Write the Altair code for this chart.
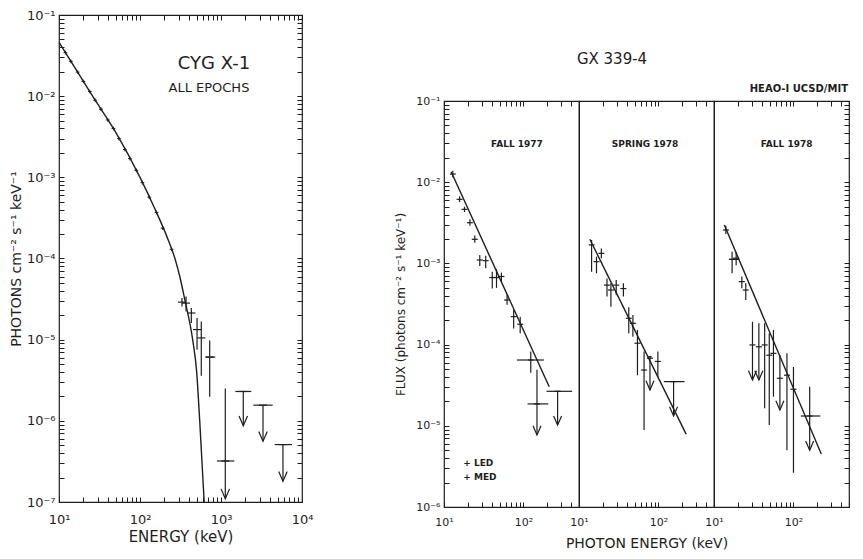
import altair as alt
import pandas as pd

# ---------------- data ----------------
# CYG X-1, all epochs: model curve (keV, photons cm^-2 s^-1 keV^-1)
cyg_curve_e = [10, 26, 50, 100, 158, 215, 270, 310, 355, 447, 500, 546, 620]
cyg_curve_f = [0.046, 0.01, 0.0036, 0.001, 3.8e-4, 1.86e-4, 1e-4, 6.0e-5, 3.2e-5, 1e-5,
               4.1e-6, 1e-6, 1e-7]
# small data crosses lying along the curve
cyg_dot_e = [12, 14, 17, 20, 24, 28, 33, 40, 47, 55, 65, 75, 90, 107, 130, 160, 190, 245]
cyg_dot_f = [0.0344, 0.0269, 0.0198, 0.0152, 0.0114, 0.0089, 0.0069, 0.0051, 0.0040, 0.0030,
             0.0022, 0.0017, 0.00122, 8.6e-4, 5.7e-4, 3.7e-4, 2.37e-4, 1.3e-4]
# high-energy points with error bars / upper limits
cyg_e = [330, 370, 430, 506, 571, 725, 1130, 1884, 3300, 5820]
cyg_f = [2.9e-5, 2.82e-5, 2.13e-5, 1.33e-5, 1.05e-5, 6.1e-6, 3.2e-7, 2.3e-6, 1.56e-6, 5.1e-7]
cyg_lo = [2.56e-5, 2.22e-5, 1.6e-5, 7.5e-6, 3.6e-6, 1.98e-6, 1.1e-7, 8.7e-7, 5.6e-7, 1.8e-7]
cyg_hi = [3.25e-5, 3.4e-5, 2.45e-5, 1.85e-5, 1.68e-5, 9.8e-6, 2.5e-6, 2.3e-6, 1.56e-6, 5.1e-7]
cyg_arrow_e = [1130, 1884, 3300, 5820]
cyg_arrow_f = [1.1e-7, 8.7e-7, 5.6e-7, 1.8e-7]
cyg_hbar_e1 = [640, 891, 1503, 2513, 4600]
cyg_hbar_e2 = [851, 1459, 2365, 4345, 7530]
cyg_hbar_f = [6.1e-6, 3.2e-7, 2.3e-6, 1.56e-6, 5.1e-7]

# GX 339-4, FALL 1977
f77_line_e = [12.3, 211]
f77_line_f = [0.01345, 3.03e-5]
f77_e = [12.9, 15.7, 18.1, 21.2, 24.4, 28.2, 33.5, 40.5, 45.8, 52.8, 62.2, 75.3, 91, 123.6, 148, 269]
f77_f = [0.0126, 0.00615, 0.00463, 0.00317, 0.00198, 0.0011, 0.00108, 6.7e-4, 6.7e-4, 6.9e-4,
         3.54e-4, 2.21e-4, 1.78e-4, 6.46e-5, 1.86e-5, 2.66e-5]
f77_lo = [0.0115, 0.0057, 0.0043, 0.0029, 0.0018, 0.00093, 0.00087, 4.9e-4, 5.0e-4, 5.8e-4,
          3.1e-4, 1.58e-4, 1.38e-4, 4.5e-5, 7.7e-6, 1.02e-5]
f77_hi = [0.0138, 0.0067, 0.0050, 0.0035, 0.0022, 0.00127, 0.00124, 7.9e-4, 8.5e-4, 7.7e-4,
          4.1e-4, 2.67e-4, 2.21e-4, 8.2e-5, 4.9e-5, 2.66e-5]
f77_arrow_e = [148, 269]
f77_arrow_f = [7.7e-6, 1.02e-5]
f77_hbar_e1 = [82.8, 112.5, 195]
f77_hbar_e2 = [180.7, 205, 410]
f77_hbar_f = [6.46e-5, 1.86e-5, 2.66e-5]

# GX 339-4, SPRING 1978
s78_line_e = [13.7, 223]
s78_line_f = [0.00198, 7.9e-6]
s78_e = [14.4, 16.6, 19.1, 22.5, 25.2, 29.4, 36.2, 42.3, 47.7, 54.4, 65.9, 78.2, 98.3, 155]
s78_f = [0.00169, 0.00105, 0.00133, 5.4e-4, 4.7e-4, 5.4e-4, 4.9e-4, 2.11e-4, 1.83e-4, 1.04e-4,
         4.86e-5, 6.8e-5, 6.2e-5, 3.5e-5]
s78_lo = [7.9e-4, 7.55e-4, 0.00116, 3.9e-4, 2.93e-4, 4.1e-4, 3.9e-4, 1.38e-4, 1.25e-4, 4.2e-5,
          8.9e-6, 2.76e-5, 4.0e-5, 1.32e-5]
s78_hi = [0.00194, 0.00121, 0.00153, 6.5e-4, 5.7e-4, 6.25e-4, 5.7e-4, 2.88e-4, 2.32e-4, 1.51e-4,
          8.2e-5, 7.1e-5, 8.2e-5, 3.5e-5]
s78_arrow_e = [78.2, 155]
s78_arrow_f = [2.76e-5, 1.32e-5]
s78_hbar_e1 = [74.5, 116.7]
s78_hbar_e2 = [82, 213]
s78_hbar_f = [7.1e-5, 3.5e-5]

# GX 339-4, FALL 1978
f78_line_e = [13.5, 224]
f78_line_f = [0.00297, 4.5e-6]
f78_e = [14.1, 16.9, 19.0, 22.4, 25.1, 30.5, 36.7, 43.4, 49.6, 56, 67.5, 82.8, 100, 160]
f78_f = [0.00258, 0.00112, 0.00116, 5.96e-4, 4.7e-4, 9.9e-5, 9.4e-5, 9.9e-5, 7.4e-5, 7.8e-5,
         3.85e-5, 4.2e-5, 2.82e-5, 1.32e-5]
f78_lo = [0.0023, 7.55e-4, 9.5e-4, 4.93e-4, 3.54e-4, 3.66e-5, 3.66e-5, 1.64e-5, 1.02e-5, 2.28e-5,
          1.57e-5, 5.0e-6, 2.64e-6, 5.0e-6]
f78_hi = [0.0029, 0.00139, 0.00138, 6.9e-4, 5.7e-4, 1.91e-4, 1.83e-4, 1.83e-4, 1.38e-4, 1.51e-4,
          7.4e-5, 7.8e-5, 5.3e-5, 3.03e-5]
f78_arrow_e = [30.5, 36.7, 67.5, 160]
f78_arrow_f = [3.66e-5, 3.66e-5, 1.57e-5, 5.0e-6]
f78_hbar_e1 = [15.4, 124]
f78_hbar_e2 = [20.4, 218]
f78_hbar_f = [0.00112, 1.32e-5]

# text annotations (positioned in data coordinates)
cyg_text = ["CYG X-1", "ALL EPOCHS"]
cyg_text_e = [820, 710]
cyg_text_f = [0.025, 0.0127]
cyg_text_size = [18, 13]
panel_titles = ["FALL 1977", "SPRING 1978", "FALL 1978"]
panel_title_e = [82.8, 67.8, 82.0]
panel_title_f = [0.0295, 0.0295, 0.0295]
legend_text = ["+  LED", "+  MED"]
legend_e = [17.5, 17.5]
legend_f = [3.48e-6, 2.34e-6]

# ---------------- styling ----------------
INK = "#1e1e1e"
FONT = "DejaVu Sans"
SUP = str.maketrans("-0123456789", "⁻⁰¹²³⁴⁵⁶⁷⁸⁹")


def log_ticks(lo_exp, hi_exp, top=None):
    vals = []
    for k in range(lo_exp, hi_exp):
        for m in range(1, 10):
            vals.append(float(f"{m}e{k}"))
    vals.append(float(f"1e{hi_exp}"))
    if top is not None:
        vals += [float(f"{m}e{hi_exp}") for m in range(2, top + 1)]
    return vals


def label_expr(lo_exp, hi_exp):
    arr = ",".join("'10" + str(k).translate(SUP) + "'" for k in range(lo_exp, hi_exp + 1))
    e = "round(log(datum.value)/LN10)"
    return f"abs(log(datum.value)/LN10 - {e}) < 0.02 ? [{arr}][{e} - ({lo_exp})] : ''"


def make_axis(orient, values, expr=None, title=None, lsize=12, tsize=14, tpad=5, ldpad=3):
    kw = dict(orient=orient, values=values, tickSize=5, offset=-5, domain=False, grid=False,
              tickColor=INK, tickWidth=1, labelColor=INK, labelFont=FONT, labelFontSize=lsize,
              labelPadding=ldpad, labelOverlap=False, labelFlush=False, labelBound=False,
              minExtent=0, maxExtent=300,
              titleFont=FONT, titleFontSize=tsize,
              titleFontWeight="normal", titleColor=INK, titlePadding=tpad, title=title)
    if expr is None:
        kw["labels"] = False
    else:
        kw["labelExpr"] = expr
    return alt.Axis(**kw)


ARROW = "M-1,-2.3L0,0L1,-2.3"
HTICK = "M-1,0L1,0"
CROSS = "M-1,0L1,0M0,-1L0,1"


def panel(line_e, line_f, e, f, lo, hi, ae, af, h1, h2, hf, xdom, ydom,
          ax_bottom, ax_top, ax_left, ax_right, width, height, interp="linear",
          tick_size=36, arrow_size=64, texts=None, dots=None):
    xs = alt.Scale(type="log", domain=xdom, nice=False)
    ys = alt.Scale(type="log", domain=ydom, nice=False)
    ldf = pd.DataFrame({"x": line_e, "y": line_f})
    pdf = pd.DataFrame({"x": e, "y": f, "lo": lo, "hi": hi})
    adf = pd.DataFrame({"x": ae, "y": af})
    hdf = pd.DataFrame({"x1": h1, "x2": h2, "y": hf})

    line = alt.Chart(ldf).mark_line(color=INK, strokeWidth=1.4, interpolate=interp).encode(
        x=alt.X("x:Q", scale=xs, axis=ax_bottom),
        y=alt.Y("y:Q", scale=ys, axis=ax_left),
    )
    ghost = alt.Chart(ldf).mark_line(strokeOpacity=0).encode(
        x=alt.X("x:Q", scale=xs, axis=ax_top),
        y=alt.Y("y:Q", scale=ys, axis=ax_right),
    )
    vbars = alt.Chart(pdf).mark_rule(color=INK, strokeWidth=1.2).encode(
        x=alt.X("x:Q", scale=xs, axis=None),
        y=alt.Y("lo:Q", scale=ys, axis=None),
        y2="hi:Q",
    )
    centers = alt.Chart(pdf).mark_point(shape=HTICK, size=tick_size, filled=False,
                                        color=INK, strokeWidth=1.2, opacity=1).encode(
        x=alt.X("x:Q", scale=xs, axis=None),
        y=alt.Y("y:Q", scale=ys, axis=None),
    )
    hbars = alt.Chart(hdf).mark_rule(color=INK, strokeWidth=1.2).encode(
        x=alt.X("x1:Q", scale=xs, axis=None),
        x2="x2:Q",
        y=alt.Y("y:Q", scale=ys, axis=None),
    )
    arrows = alt.Chart(adf).mark_point(shape=ARROW, size=arrow_size, filled=False,
                                       color=INK, strokeWidth=1.2, opacity=1).encode(
        x=alt.X("x:Q", scale=xs, axis=None),
        y=alt.Y("y:Q", scale=ys, axis=None),
    )
    layers = [line, ghost, vbars, centers, hbars, arrows]
    if dots is not None:
        ddf = pd.DataFrame({"x": dots[0], "y": dots[1]})
        layers.append(alt.Chart(ddf).mark_point(shape=CROSS, size=14, filled=False, color=INK,
                                                strokeWidth=1, opacity=1).encode(
            x=alt.X("x:Q", scale=xs, axis=None),
            y=alt.Y("y:Q", scale=ys, axis=None),
        ))
    if texts is not None:
        for (t_list, t_e, t_f, size, weight, align) in texts:
            tdf = pd.DataFrame({"t": t_list, "x": t_e, "y": t_f, "s": size})
            layers.append(alt.Chart(tdf).mark_text(font=FONT, color=INK, fontWeight=weight,
                                                   align=align, baseline="middle").encode(
                x=alt.X("x:Q", scale=xs, axis=None),
                y=alt.Y("y:Q", scale=ys, axis=None),
                text="t:N",
                size=alt.Size("s:Q", scale=None, legend=None),
            ))
    return alt.layer(*layers).resolve_axis(x="independent", y="independent").properties(
        width=width, height=height)


# ---------------- left chart: CYG X-1 ----------------
lx_vals = log_ticks(1, 4)
ly_vals = log_ticks(-7, -1)
left = panel(
    cyg_curve_e, cyg_curve_f, cyg_e, cyg_f, cyg_lo, cyg_hi, cyg_arrow_e, cyg_arrow_f,
    cyg_hbar_e1, cyg_hbar_e2, cyg_hbar_f, [10, 10000], [1e-7, 0.1],
    make_axis("bottom", lx_vals, label_expr(1, 4), "ENERGY (keV)", lsize=13, tsize=15, tpad=3, ldpad=11),
    make_axis("top", lx_vals),
    make_axis("left", ly_vals, label_expr(-7, -1), "PHOTONS cm⁻² s⁻¹ keV⁻¹", lsize=13, tsize=14,
              tpad=3, ldpad=4),
    make_axis("right", ly_vals),
    243, 487, interp="monotone", tick_size=64, arrow_size=72,
    texts=[(cyg_text, cyg_text_e, cyg_text_f, cyg_text_size, "normal", "center")],
    dots=(cyg_dot_e, cyg_dot_f),
)

# ---------------- right chart: GX 339-4 ----------------
rx_vals = log_ticks(1, 2, top=5)
ry_vals = log_ticks(-6, -1)
PW, PH = 135, 406
XD, YD = [10, 500], [1e-6, 0.1]


def ptitle(i, extra=None):
    t = [([panel_titles[i]], [panel_title_e[i]], [panel_title_f[i]], [9], "bold", "center")]
    if extra:
        t.append(extra)
    return t


p1 = panel(
    f77_line_e, f77_line_f, f77_e, f77_f, f77_lo, f77_hi, f77_arrow_e, f77_arrow_f,
    f77_hbar_e1, f77_hbar_e2, f77_hbar_f, XD, YD,
    make_axis("bottom", rx_vals, label_expr(1, 2), None, lsize=11, ldpad=9),
    make_axis("top", rx_vals),
    make_axis("left", ry_vals, label_expr(-6, -1), "FLUX (photons cm⁻² s⁻¹ keV⁻¹)", lsize=11,
              tsize=12, tpad=8, ldpad=4),
    None, PW, PH,
    texts=ptitle(0, (legend_text, legend_e, legend_f, [9, 9], "bold", "left")),
)
p2 = panel(
    s78_line_e, s78_line_f, s78_e, s78_f, s78_lo, s78_hi, s78_arrow_e, s78_arrow_f,
    s78_hbar_e1, s78_hbar_e2, s78_hbar_f, XD, YD,
    make_axis("bottom", rx_vals, label_expr(1, 2), "PHOTON ENERGY (keV)", lsize=11, tsize=14,
              tpad=9, ldpad=9),
    make_axis("top", rx_vals),
    None, None, PW, PH,
    texts=ptitle(1),
)
p3 = panel(
    f78_line_e, f78_line_f, f78_e, f78_f, f78_lo, f78_hi, f78_arrow_e, f78_arrow_f,
    f78_hbar_e1, f78_hbar_e2, f78_hbar_f, XD, YD,
    make_axis("bottom", rx_vals, label_expr(1, 2), None, lsize=11, ldpad=9),
    make_axis("top", rx_vals),
    None,
    make_axis("right", ry_vals),
    PW, PH,
    texts=ptitle(2),
)

hdr_a = alt.Chart(pd.DataFrame({"t": ["GX 339-4"]})).mark_text(
    font=FONT, fontSize=15, color=INK, align="center", baseline="middle").encode(
    text="t:N", x=alt.value(168), y=alt.value(44))
hdr_b = alt.Chart(pd.DataFrame({"t": ["HEAO-I UCSD/MIT"]})).mark_text(
    font=FONT, fontSize=10, fontWeight="bold", color=INK, align="right", baseline="middle").encode(
    text="t:N", x=alt.value(404), y=alt.value(74))
header = alt.layer(hdr_a, hdr_b).properties(width=400, height=78,
                                            view=alt.ViewBackground(strokeOpacity=0))

panels = alt.hconcat(p1, p2, p3, spacing=0, bounds="flush")
right = alt.vconcat(header, panels, spacing=0)

chart = alt.hconcat(left, right, spacing=80).properties(
    padding={"left": 0, "top": 0, "right": 0, "bottom": 0},
    background="white",
).configure_view(stroke=INK, strokeWidth=1.2)

chart.save("out.html", embed_options={"renderer": "svg", "actions": False})
